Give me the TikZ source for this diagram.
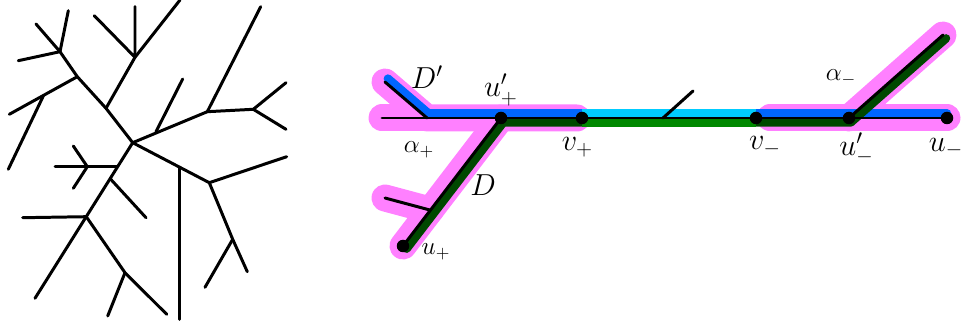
\documentclass[tikz,border=0pt]{standalone}
\usepackage{amsmath,amssymb}
\usepackage{xcolor}
\usetikzlibrary{calc}

\definecolor{glowpink}{RGB}{255,128,255}
\definecolor{geoblue}{RGB}{0,102,255}
\definecolor{geocyan}{RGB}{0,204,255}
\definecolor{geogreen}{RGB}{0,136,0}
\definecolor{geodark}{RGB}{0,72,0}

\begin{document}
\begin{tikzpicture}[x=0.02cm, y=-0.02cm, line cap=round, line join=round,
  branch/.style={line width=1.7pt},
  glow/.style={glowpink, line width=0.54cm},
  band/.style={line width=0.17cm},
  vtx/.style={circle, fill, inner sep=0pt, minimum size=0.25cm},
  lbl/.style={font=\LARGE, inner sep=0pt}, slbl/.style={font=\Large, inner sep=0pt}]
\useasboundingbox (0,0) rectangle (964,327);

% tree on the left
\begin{scope}[branch]
\coordinate (c) at (132.7,142.7);
\draw (36,24) -- (60,51.7) -- (77.3,76.7) -- (106,108.3) -- (c);
\draw (68.3,10.7) -- (60,51.7) -- (18.3,60.7);
\draw (77.3,76.7) -- (9.3,114.3); \draw (43.3,96) -- (8.3,169.3);
\draw (106,108.3) -- (135,57.3) -- (180,0); \draw (94.3,15.7) -- (135,57.3) -- (135,6.7);
\draw (c) -- (207.3,111.7) -- (260.7,6.7); \draw (156,131.7) -- (182.7,79);
\draw (207.3,111.7) -- (253.3,109.3); \draw (286,82.7) -- (253.3,109.3) -- (286,129.3);
\draw (c) -- (209.3,182.7) -- (286.7,156.7); \draw (179.3,168.3) -- (179.3,319.3);
\draw (209.3,182.7) -- (232.7,239.3) -- (247.3,271.7); \draw (232.7,239.3) -- (205,287.3);
\draw (c) -- (35,298.3);
\draw (117,166.7) -- (55,166.7); \draw (73.3,146) -- (87.3,166.7) -- (73.3,188.3);
\draw (110.5,179) -- (146,217.7);
\draw (22.7,217.7) -- (86.3,216.7) -- (125,272.7) -- (166.7,314.3); \draw (125,272.7) -- (107.7,316);
\end{scope}

% the two geodesics on the right
\coordinate (lft) at (382,118);
\coordinate (dp) at (385,82);
\coordinate (ap) at (427,118);
\coordinate (upp) at (501,118);
\coordinate (vp) at (582,118);
\coordinate (mid) at (663,118);
\coordinate (vm) at (756,118);
\coordinate (upm) at (849,118);
\coordinate (um) at (947,118);
\coordinate (am) at (943,35);
\coordinate (up) at (403,246);
\coordinate (sb) at ($(up)!0.28!(upp)$);

\draw[glow] (dp) -- (ap) -- ($(vp)+(-5,0)$); \draw[glow] (lft) -- (ap);
\draw[glow] (up) -- (upp); \draw[glow] (385,198) -- (sb);
\draw[glow] ($(vm)+(14,0)$) -- (um); \draw[glow] (upm) -- (am);

\draw[band, geoblue] ([shift={(2.9,-3.4)}]dp) -- ([shift={(1.6,-4.5)}]ap) -- ([shift={(0,-4.5)}]vp);
\draw[band, geoblue] ([shift={(0,-4.5)}]vm) -- ([shift={(0,-4.5)}]um);
\draw[band, geocyan, line cap=butt] ([shift={(0,-4.5)}]vp) -- ([shift={(0,-4.5)}]vm);
\draw[band, geodark] ([shift={(3.6,2.7)}]up) -- ([shift={(2.2,4.5)}]upp) -- ([shift={(0,4.5)}]vp);
\draw[band, geodark] ([shift={(0,4.5)}]vm) -- ([shift={(1.7,4.5)}]upm) -- ([shift={(3,3.4)}]am);
\draw[band, geogreen, line cap=butt] ([shift={(0,4.5)}]vp) -- ([shift={(0,4.5)}]vm);

\draw[branch] (lft) -- (um); \draw[branch] (dp) -- (ap);
\draw[branch] (up) -- (upp); \draw[branch] (385,198) -- (sb);
\draw[branch] (mid) -- (693,91); \draw[branch] (upm) -- (am);

\foreach \p in {up,upp,vp,vm,upm,um} \node[vtx] at (\p) {};

\node[lbl] (ldp) at (427,77) {$D'$};
\node[lbl] (lupp) at (501,90) {$u'_+$};
\node[slbl] (lap) at (419,150) {$\alpha_+$};
\node[lbl] (lvp) at (577.5,147.5) {$v_+$};
\node[lbl] (ld) at (483,185) {$D$};
\node[slbl] (lup) at (436,252) {$u_+$};
\node[slbl] (lam) at (841,77.5) {$\alpha_-$};
\node[lbl] (lvm) at (765,146.5) {$v_-$};
\node[lbl] (lupm) at (856.5,148.5) {$u'_-$};
\node[lbl] (lum) at (946,148) {$u_-$};
\end{tikzpicture}
\end{document}
